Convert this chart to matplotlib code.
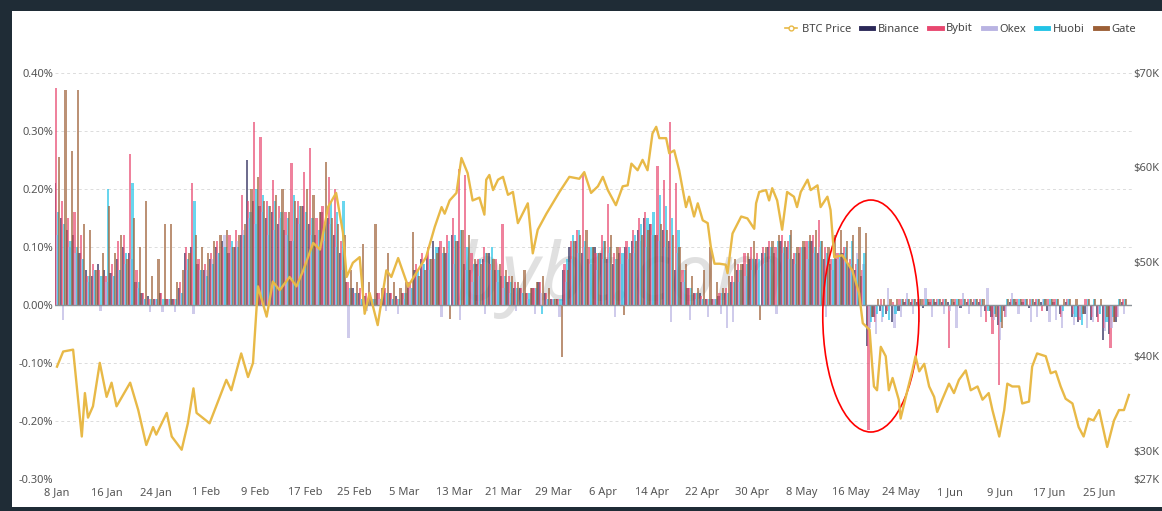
import numpy as np
import pandas as pd
import matplotlib
matplotlib.use('Agg')
import matplotlib.pyplot as plt
import matplotlib.dates as mdates
from matplotlib.patches import Rectangle, Ellipse
from matplotlib.lines import Line2D

plt.rcParams['font.family'] = ['Noto Sans', 'DejaVu Sans']

# daily funding rates, 8 Jan - 29 Jun 2021, in units of 0.001 %
binance = [
    210, 150, 130, 120, 90, 60, 50, 70, 60, 55, 80, 100, 90, 40, 20, 15, 10, 20, 10, 10, 30, 90, 100, 70,  # Jan
    60, 80, 100, 110, 90, 100, 120, 250, 180, 170, 150, 160, 140, 130, 110, 150, 170, 140, 120, 160, 150, 120, 90, 40, 30, 20, 15, 10,  # Feb
    20, 30, 20, 15, 20, 30, 60, 80, 90, 110, 100, 90, 120, 110, 70, 60, 70, 80, 90, 60, 50, 40, 30, 30, 20, 30, 40, 20, 10, 10, 60,  # Mar
    100, 110, 90, 80, 100, 90, 80, 70, 90, 100, 110, 130, 150, 140, 120, 130, 110, 60, 40, 30, 20, 20, 10, 10, 15, 20, 40, 60, 70, 80,  # Apr
    80, 90, 100, 90, 110, 100, 80, 90, 100, 110, 90, 80, 70, 80, 90, 70, 60, 50, -70, -20, -10, -15, -30, -10, 5, 5, 5, -5, 5, 5, 5,  # May
    5, 5, -5, 5, 5, 5, -10, -20, -35, -10, 5, 5, 5, -5, 5, 5, -10, 5, -15, 5, -20, -30, -15, -25, -20, -60, -50, -30, 5,  # Jun
]
bybit = [
    374, 180, 150, 160, 120, 50, 70, 60, 50, 70, 110, 120, 260, 60, 20, 10, 10, 20, 10, 10, 40, 100, 210, 80,
    70, 90, 110, 100, 120, 130, 190, 180, 316, 290, 180, 215, 170, 160, 245, 180, 230, 270, 150, 170, 220, 200, 110, 40, 20, 30, 20, 10,
    20, 30, 20, 10, 20, 40, 70, 90, 100, 80, 110, 120, 150, 235, 225, 90, 80, 100, 70, 80, 140, 50, 40, 30, 20, 30, 40, 20, 10, 10, 70,
    110, 130, 227, 100, 90, 120, 175, 90, 100, 110, 130, 150, 160, 140, 240, 215, 316, 210, 60, 30, 20, 15, 10, 10, 20, 30, 50, 70, 90, 100,
    90, 100, 110, 100, 120, 110, 90, 100, 110, 120, 146, 100, 80, 90, 100, 80, 70, 60, -215, -30, 10, -10, 5, 10, 10, 10, 10, 10, 10, 10, 10,
    -74, 10, 10, 10, 10, 10, -30, -50, -138, -20, 10, 10, 10, 10, 10, -10, 10, 10, -20, 10, -15, -25, 10, -20, -30, -40, -74, -20, 10,
]
okex = [
    120, -26, 100, 90, 80, 40, 60, -10, 40, 50, 60, 70, 80, 30, 10, -12, 10, -12, 10, -12, 20, 60, -15, 60,
    60, 80, 90, 120, 100, 110, 130, 150, 140, 160, 120, 130, 150, 120, 110, 140, 130, 120, 100, 110, 140, 100, 60, -57, 20, 10, -10, 10,
    10, -10, 10, -15, 10, 30, 50, 70, 60, 80, -20, 90, 70, -25, 60, 40, 50, -15, 60, 40, 30, 20, -10, 20, 10, -15, 20, 10, 10, -20, 40,
    80, 90, 100, 70, 60, 80, 90, -20, 70, 80, 90, 110, 100, 120, 110, 100, -30, 90, 40, -25, 10, 10, -20, 10, -15, -40, -30, 40, 50, 60,
    60, 70, 80, -15, 90, 80, 70, 60, 80, 90, 100, -20, 60, 80, 90, 70, 90, 70, -40, -50, -30, 30, -40, -20, 20, -15, -30, 30, -20, 10, -15,
    -10, -40, 20, -15, 10, -20, 30, -25, -60, -20, 20, -15, 10, -30, -20, 10, -30, -25, -40, 10, -35, -20, -40, -30, -15, -45, -40, -20, -15,
]
huobi = [
    160, 140, 110, 100, 80, 50, 60, 50, 200, 50, 60, 90, 210, 40, 10, 10, 10, 10, 10, 10, 20, 80, 180, 60,
    50, 70, 90, 100, 110, 100, 120, 160, 200, 190, 170, 180, 160, 150, 190, 170, 160, 150, 130, 140, 180, 160, 180, 30, 20, 10, 10, 10,
    10, 20, 10, 10, 20, 30, 60, 70, 80, 100, 90, 110, 120, 130, 100, 70, 80, 90, 100, 60, 50, 40, 30, 20, 20, 30, -15, 10, 10, 10, 80,
    120, 130, 110, 100, 90, 110, 100, 80, 90, 100, 120, 140, 150, 160, 190, 170, 150, 130, 60, 30, 20, 10, 10, 10, 20, 20, 40, 60, 70, 80,
    80, 90, 100, 110, 100, 120, 90, 100, 110, 100, 110, 90, 80, 90, 100, 110, 80, 90, -30, -15, -20, -25, -15, 10, 10, 10, 10, 10, 10, 10, 10,
    10, 10, 10, 10, 10, 10, -10, -15, -30, 10, 10, 10, 10, 10, 10, 10, 10, 10, -10, 10, -20, -35, 10, 10, -15, -30, -20, 10, 10,
]
gate = [
    255, 370, 265, 370, 140, 130, 60, 90, 170, 90, 120, 80, 150, 100, 180, 50, 80, 140, 140, 40, 60, 90, 120, 100,
    90, 110, 120, 130, 100, 120, 140, 200, 220, 180, 170, 190, 200, 160, 180, 170, 200, 190, 160, 247, 150, 140, 120, 60, 40, 106, 40, 140,
    30, 90, 40, 30, 40, 126, 50, 60, 80, 90, 100, -24, 110, 130, 120, 80, 70, 90, 80, 70, 60, 50, 40, 60, 30, 40, 50, 30, 10, -89, 60,
    110, 120, 130, 100, 90, 110, 120, 100, -17, 90, 110, 120, 130, 120, 140, 130, 120, 100, 70, 50, 30, 60, 100, 40, 30, 50, 80, 70, 90, 110,
    -25, 100, 110, 120, 110, 130, 100, 110, 120, 130, 110, 100, 120, 130, 110, 120, 135, 125, -20, 10, 10, 10, 10, 10, 10, 10, 10, 10, 10, 10, 10,
    10, 10, 10, 10, 10, 10, -10, -20, -40, 10, 10, 10, 10, 10, 10, 10, 10, 10, 10, 10, 10, -15, 10, 10, 10, -20, -30, 10, 10,
]

# BTC price ($K), sampled at days after 8 Jan
price_day = [
    0.0, 1.0, 2.6, 4.0, 4.5, 5.0, 5.8, 6.9, 8.0, 8.8, 9.6, 11.8, 13.1, 14.4, 15.5, 16.0, 17.7, 18.5, 20.1, 21.1,
    22.0, 22.5, 24.6, 27.3, 28.1, 29.7, 30.8, 31.6, 32.4, 33.8, 34.8, 35.9, 37.5, 38.6, 39.7, 41.3, 42.4, 43.7,
    45.0, 46.1, 46.7, 47.7, 48.8, 49.6, 50.4, 51.7, 53.1, 53.9, 55.0, 56.6, 57.9, 59.5, 60.9, 62.0, 62.5, 63.3,
    64.4, 65.2, 66.2, 67.0, 68.1, 68.9, 69.2, 69.7, 70.3, 71.1, 71.9, 72.7, 73.5, 74.3, 75.9, 76.7, 77.5, 78.9,
    79.9, 81.0, 82.6, 84.2, 85.0, 86.1, 87.2, 88.0, 88.8, 90.1, 91.2, 92.0, 92.6, 93.6, 94.4, 95.2, 96.0, 96.6,
    97.1, 98.2, 98.7, 99.5, 100.3, 101.4, 101.9, 102.7, 103.3, 104.1, 104.9, 105.4, 106.0, 106.8, 107.8, 108.1,
    108.9, 110.3, 111.3, 112.4, 112.7, 113.2, 114.3, 114.8, 115.3, 116.1, 116.9, 117.7, 118.8, 119.3, 119.9,
    120.4, 121.0, 121.5, 122.6, 123.1, 124.2, 124.7, 125.3, 126.6, 128.2, 129.3, 129.9, 131.0, 131.4, 131.7,
    132.2, 132.8, 133.6, 134.1, 134.7, 135.7, 136.0, 137.1, 137.9, 138.4, 139.0, 139.8, 140.6, 141.4, 141.9,
    142.7, 143.8, 144.6, 145.4, 146.5, 147.3, 148.4, 149.2, 150.2, 150.8, 151.9, 152.7, 153.2, 154.0, 155.1,
    155.6, 156.7, 157.2, 158.0, 159.4, 160.2, 161.0, 161.8, 162.6, 163.7, 164.7, 165.5, 166.3, 167.1, 168.0,
    169.3, 170.4, 171.2, 172.0, 172.8,
]
price_k = [
    38.9, 40.5, 40.7, 31.5, 36.1, 33.5, 34.7, 39.3, 35.7, 37.2, 34.7, 37.2, 34.3, 30.6, 32.5, 31.7, 34.0, 31.5, 30.1, 32.9,
    36.6, 34.0, 32.9, 37.5, 36.4, 40.3, 37.8, 39.3, 47.4, 44.2, 47.9, 47.0, 48.4, 47.4, 49.1, 52.0, 51.3, 55.8,
    57.3, 53.1, 48.4, 49.9, 50.5, 44.5, 46.7, 43.3, 49.1, 48.4, 50.4, 47.4, 48.8, 50.5, 53.7, 55.8, 55.1, 56.5,
    57.3, 61.0, 59.4, 56.5, 56.8, 55.0, 58.7, 59.2, 57.6, 58.7, 59.0, 57.1, 57.4, 54.1, 56.2, 50.9, 53.4, 55.1,
    56.2, 57.4, 59.0, 58.8, 59.5, 57.3, 58.0, 59.0, 57.6, 56.0, 58.0, 58.1, 60.4, 59.7, 60.8, 59.7, 63.6, 64.3,
    63.1, 63.1, 61.5, 61.8, 59.7, 55.8, 56.9, 54.8, 56.2, 54.4, 54.1, 51.6, 49.8, 49.8, 49.7, 48.8,
    53.0, 54.8, 54.6, 53.5, 56.2, 57.4, 57.6, 56.5, 57.8, 56.5, 53.4, 57.4, 56.9, 55.8, 57.4,
    58.0, 58.7, 57.6, 58.1, 55.8, 56.9, 55.5, 50.5, 50.7, 49.1, 46.7, 43.5, 42.8, 39.2, 36.8,
    36.4, 41.0, 40.0, 36.4, 37.7, 35.4, 33.4, 36.4, 38.5, 40.0, 38.4, 39.2, 36.8, 35.7, 34.1,
    35.4, 37.1, 36.1, 37.5, 38.5, 36.4, 36.8, 35.4, 36.1, 34.3, 31.5, 34.3, 37.1, 36.8, 36.8,
    35.0, 35.2, 38.9, 40.3, 40.0, 38.2, 38.4, 36.8, 35.5, 35.0, 32.5, 31.5, 33.4, 33.2, 34.3,
    30.4, 33.2, 34.3, 34.3, 35.9,
]

exchanges = ['Binance', 'Bybit', 'Okex', 'Huobi', 'Gate']
colors = ['#2b2858', '#e8476f', '#b9b3e2', '#22c3e6', '#9c5f36']
rates = [binance, bybit, okex, huobi, gate]

dates = pd.date_range('2021-01-08', periods=len(binance), freq='D')
x = mdates.date2num(dates)
start = x[0]

fig = plt.figure(figsize=(11.62, 5.11), dpi=100, facecolor='#1f2c36')
fig.patches.append(Rectangle((12 / 1162, 4 / 511), 1150 / 1162, 496 / 511,
                             transform=fig.transFigure, facecolor='white',
                             edgecolor='none', zorder=-5))

ax = fig.add_axes([54.5 / 1162, 32 / 511, 1077.5 / 1162, 406 / 511])
ax.set_facecolor('none')

# overlapping translucent bars, one slot per exchange within each day
offsets = [-0.36, -0.18, 0.0, 0.18, 0.36]
for vals, col, off in zip(rates, colors, offsets):
    ax.bar(x + off, np.array(vals) / 1000.0, width=0.36, color=col,
           alpha=0.68, linewidth=0, zorder=2)
ax.axhline(0, color='#8c9298', lw=1.0, zorder=3)

ax.set_ylim(-0.3, 0.4)
ax.set_yticks(np.arange(-0.3, 0.41, 0.1))
ax.set_yticklabels([f'{v:.2f}%' for v in np.arange(-0.3, 0.41, 0.1)])
ax.grid(axis='y', color='#dcdcdc', ls=(0, (3, 3)), lw=0.7)
ax.set_axisbelow(True)
ax.set_xlim(start - 0.4, start + 173.3)
ax.set_xticks(x[::8])
ax.set_xticklabels([f'{d.day} {d:%b}' for d in dates[::8]])
for s in ax.spines.values():
    s.set_visible(False)
ax.tick_params(length=0, labelsize=8, colors='#555555')
ax.tick_params(axis='y', pad=1)
ax.tick_params(axis='x', pad=6)

ax.text(start + 91, 0.045, 'bybt.com', fontsize=58, fontweight='bold',
        style='italic', color='#d4d4d4', alpha=0.7, ha='center', va='center', zorder=1)

ax.add_patch(Ellipse((start + 131.2, -0.019), 15.5, 0.40, fill=False,
                     edgecolor='red', lw=1.2, zorder=5))

ax2 = ax.twinx()
ax2.plot(start + np.array(price_day), np.array(price_k) * 1000, color='#e8b947', lw=1.7)
ax2.set_ylim(27000, 70000)
ax2.set_yticks([27000, 30000, 40000, 50000, 60000, 70000])
ax2.set_yticklabels(['$27K', '$30K', '$40K', '$50K', '$60K', '$70K'])
for s in ax2.spines.values():
    s.set_visible(False)
ax2.tick_params(length=0, labelsize=8, colors='#555555', pad=1)

handles = [Line2D([], [], color='#e8b947', lw=1.2, marker='o', ms=3.5,
                  markerfacecolor='white', markeredgecolor='#e8b947')]
handles += [Line2D([], [], color=c, lw=3.5) for c in colors]
fig.legend(handles, ['BTC Price'] + exchanges, loc='center right',
           bbox_to_anchor=(1146 / 1162, 1 - 29 / 511), ncol=6, frameon=False,
           fontsize=8, handlelength=1.1, handletextpad=0.4, columnspacing=0.9,
           labelcolor='#444444')

fig.savefig('out.png', dpi=100, facecolor=fig.get_facecolor())
